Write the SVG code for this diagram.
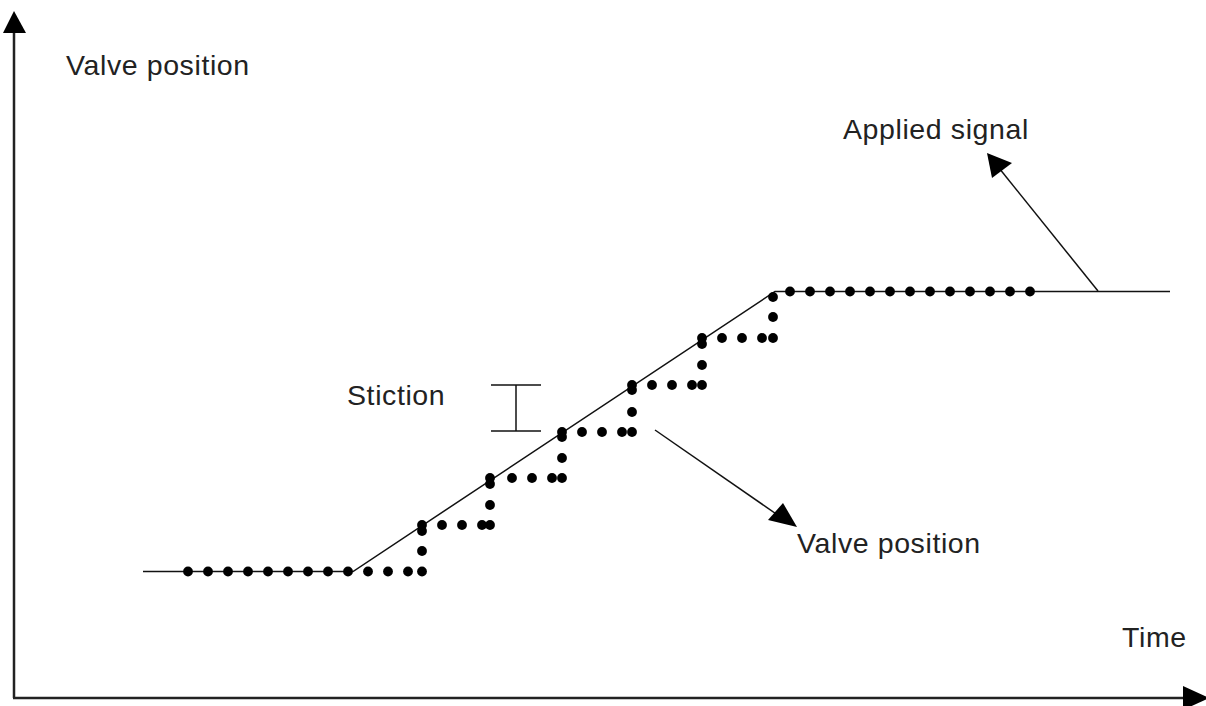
<svg xmlns="http://www.w3.org/2000/svg" width="1206" height="706" viewBox="0 0 1206 706">
<style>
.t{font-family:"Liberation Sans",Arial,sans-serif;font-size:28.5px;letter-spacing:0.6px;fill:#222}
.ln{stroke:#111;stroke-width:1.5;fill:none}
.ax{stroke:#222;stroke-width:2.5;fill:none}
.d circle{fill:#000;r:4.9px}
</style>
<rect width="1206" height="706" fill="#fff"/>
<g id="axes">
<line class="ax" x1="14" y1="30" x2="14" y2="698"/>
<polygon points="14,11 3,33 26,33" fill="#000"/>
<line class="ax" x1="13" y1="698" x2="1186" y2="698"/>
<polygon points="1183,686 1209,698 1183,710" fill="#000"/>
</g>
<g id="labels">
<text class="t" x="66" y="75">Valve position</text>
<text class="t" x="1122" y="647">Time</text>
<text class="t" x="347" y="405">Stiction</text>
<text class="t" x="843" y="139">Applied signal</text>
<text class="t" x="797" y="553">Valve position</text>
</g>
<g id="applied-signal">
<polyline class="ln" points="143,571.5 353,571.5 775,291.5 1170,291.5"/>
</g>
<g id="stiction-marker">
<line class="ln" x1="491" y1="385" x2="541" y2="385"/>
<line class="ln" x1="491" y1="431" x2="541" y2="431"/>
<line class="ln" x1="516" y1="385" x2="516" y2="431"/>
</g>
<g id="valve-position" class="d">
<circle cx="188" cy="571.5" r="4.9"/><circle cx="208" cy="571.5" r="4.9"/><circle cx="228" cy="571.5" r="4.9"/><circle cx="248" cy="571.5" r="4.9"/><circle cx="268" cy="571.5" r="4.9"/><circle cx="288" cy="571.5" r="4.9"/><circle cx="308" cy="571.5" r="4.9"/><circle cx="328" cy="571.5" r="4.9"/><circle cx="348" cy="571.5" r="4.9"/><circle cx="368" cy="571.5" r="4.9"/><circle cx="388" cy="571.5" r="4.9"/><circle cx="408" cy="571.5" r="4.9"/><circle cx="422" cy="571.5" r="4.9"/>
<circle cx="422" cy="551" r="4.9"/><circle cx="422" cy="531" r="4.9"/><circle cx="422" cy="525" r="4.9"/>
<circle cx="442" cy="525" r="4.9"/><circle cx="462" cy="525" r="4.9"/><circle cx="482" cy="525" r="4.9"/><circle cx="490" cy="525" r="4.9"/>
<circle cx="490" cy="505" r="4.9"/><circle cx="490" cy="484" r="4.9"/><circle cx="490" cy="478" r="4.9"/>
<circle cx="512" cy="478" r="4.9"/><circle cx="532" cy="478" r="4.9"/><circle cx="552" cy="478" r="4.9"/><circle cx="562" cy="478" r="4.9"/>
<circle cx="562" cy="458" r="4.9"/><circle cx="562" cy="437" r="4.9"/><circle cx="562" cy="432" r="4.9"/>
<circle cx="582" cy="432" r="4.9"/><circle cx="602" cy="432" r="4.9"/><circle cx="622" cy="432" r="4.9"/><circle cx="632" cy="432" r="4.9"/>
<circle cx="632" cy="412" r="4.9"/><circle cx="632" cy="390" r="4.9"/><circle cx="632" cy="385" r="4.9"/>
<circle cx="652" cy="385" r="4.9"/><circle cx="672" cy="385" r="4.9"/><circle cx="692" cy="385" r="4.9"/><circle cx="702" cy="385" r="4.9"/>
<circle cx="702" cy="365" r="4.9"/><circle cx="702" cy="344" r="4.9"/><circle cx="702" cy="338" r="4.9"/>
<circle cx="722" cy="338" r="4.9"/><circle cx="742" cy="338" r="4.9"/><circle cx="762" cy="338" r="4.9"/><circle cx="773" cy="338" r="4.9"/>
<circle cx="773" cy="317" r="4.9"/><circle cx="773" cy="297" r="4.9"/>
<circle cx="790" cy="291.5" r="4.9"/><circle cx="810" cy="291.5" r="4.9"/><circle cx="830" cy="291.5" r="4.9"/><circle cx="850" cy="291.5" r="4.9"/><circle cx="870" cy="291.5" r="4.9"/><circle cx="890" cy="291.5" r="4.9"/><circle cx="910" cy="291.5" r="4.9"/><circle cx="930" cy="291.5" r="4.9"/><circle cx="950" cy="291.5" r="4.9"/><circle cx="970" cy="291.5" r="4.9"/><circle cx="990" cy="291.5" r="4.9"/><circle cx="1010" cy="291.5" r="4.9"/><circle cx="1030" cy="291.5" r="4.9"/>
</g>
<g id="connectors">
<line class="ln" x1="1098" y1="291" x2="999" y2="168"/>
<polygon points="987,153 992,178 1012,163" fill="#000"/>
<line class="ln" x1="655" y1="430" x2="782" y2="518"/>
<polygon points="797,527 768,520 783,503" fill="#000"/>
</g>
</svg>
